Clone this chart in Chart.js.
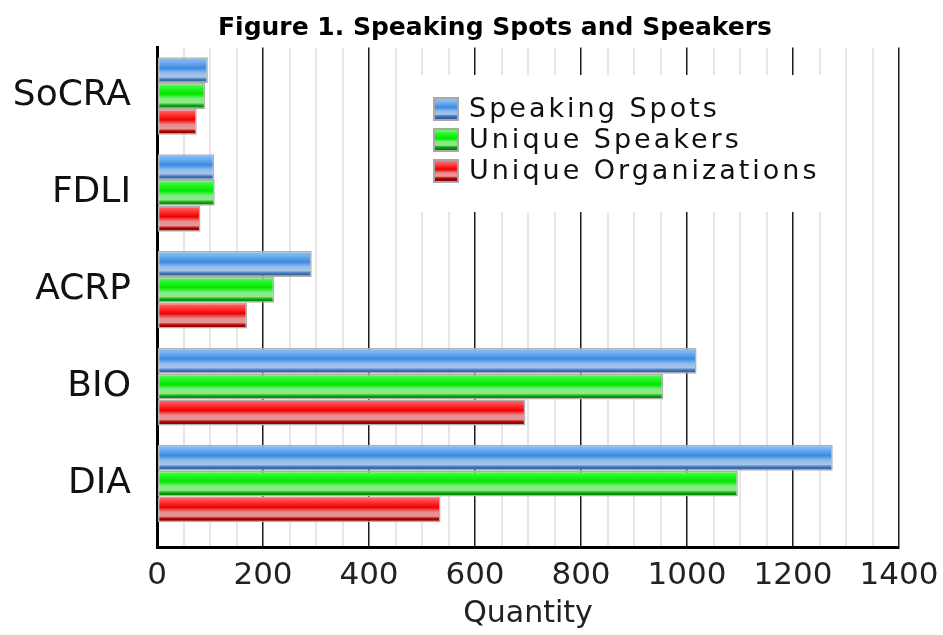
<!DOCTYPE html>
<html lang="en">
<head>
<meta charset="UTF-8">
<title>Figure 1. Speaking Spots and Speakers</title>
<style>
  html, body { margin: 0; padding: 0; background: #fff; }
</style>
</head>
<body>
<canvas id="myChart" width="943" height="635"></canvas>
<script src="https://cdn.jsdelivr.net/npm/chart.js"></script>
<script>
// data
const titleText = "Figure 1. Speaking Spots and Speakers";
const categories = ["SoCRA", "FDLI", "ACRP", "BIO", "DIA"];
const seriesNames = ["Speaking Spots", "Unique Speakers", "Unique Organizations"];
const speakingSpots = [96, 108, 292, 1018, 1275];
const uniqueSpeakers = [91, 109, 221, 955, 1096];
const uniqueOrgs = [75, 82, 170, 695, 535];
const xTicks = [0, 200, 400, 600, 800, 1000, 1200, 1400];

// glossy stripes, top to bottom of each bar
const shades = [
    [[0, "#8ec4f8"], [0.18, "#72b0f2"], [0.42, "#3b89e2"], [0.6, "#93bbe9"], [0.76, "#a6c5ea"], [0.86, "#3f73b6"], [1, "#2b578f"]],
    [[0, "#66ff66"], [0.18, "#2cf52c"], [0.42, "#00e600"], [0.6, "#7fee7f"], [0.76, "#8ee88e"], [0.86, "#0aa30a"], [1, "#007a00"]],
    [[0, "#ff7373"], [0.18, "#ff4040"], [0.42, "#ee0000"], [0.6, "#ea8a8a"], [0.76, "#e59a9a"], [0.86, "#b00000"], [1, "#860000"]]
];

function gradient(ctx, top, bottom, stops) {
    const g = ctx.createLinearGradient(0, top, 0, bottom);
    stops.forEach(s => g.addColorStop(s[0], s[1]));
    return g;
}

// categories stop a little above the x axis, like the original
const bandPlugin = {
    id: "band",
    afterLayout(chart) {
        const s = chart.scales.y;
        s._endPixel = s.bottom - 15;
        s._length = s._endPixel - s._startPixel;
    }
};

// give every bar its own vertical gradient, from the bar's own position
const shadePlugin = {
    id: "shade",
    beforeDatasetsDraw(chart) {
        chart.data.datasets.forEach((ds, i) => {
            const meta = chart.getDatasetMeta(i);
            meta.data.forEach(bar => {
                const p = bar.getProps(["y", "height"], true);
                bar.options = Object.assign({}, bar.options, {
                    backgroundColor: gradient(chart.ctx, p.y - p.height / 2, p.y + p.height / 2, shades[i])
                });
            });
        });
    }
};

// legend sits inside the plot on a white panel, title drawn above
const decorPlugin = {
    id: "decor",
    afterDraw(chart) {
        const c = chart.ctx;
        c.save();
        c.fillStyle = "#fff";
        c.fillRect(412, 75, 423, 137);
        chart.data.datasets.forEach((ds, i) => {
            const cy = 109 + i * 31;
            c.fillStyle = "#a8a8a8";
            c.fillRect(433, cy - 12, 26, 24);
            c.fillStyle = gradient(c, cy - 10, cy + 10, shades[i]);
            c.fillRect(435, cy - 10, 22, 20);
            c.font = '27px "DejaVu Sans"';
            c.letterSpacing = "3px";
            c.fillStyle = "#111";
            c.textAlign = "left";
            c.textBaseline = "middle";
            c.fillText(ds.label, 469, cy + 1);
        });
        c.letterSpacing = "0px";
        c.font = 'bold 25px "DejaVu Sans"';
        c.fillStyle = "#000";
        c.textAlign = "center";
        c.textBaseline = "alphabetic";
        c.fillText(titleText, 495, 35);
        c.restore();
    }
};

const ctx = document.getElementById("myChart");
const myChart = new Chart(ctx, {
    type: "bar",
    data: {
        labels: categories,
        datasets: [
            { label: seriesNames[0], data: speakingSpots, borderColor: "#b0b0b0", backgroundColor: "#3b89e2" },
            { label: seriesNames[1], data: uniqueSpeakers, borderColor: "#b0b0b0", backgroundColor: "#00e600" },
            { label: seriesNames[2], data: uniqueOrgs, borderColor: "#b0b0b0", backgroundColor: "#ee0000" }
        ]
    },
    options: {
        indexAxis: "y",
        responsive: false,
        animation: false,
        devicePixelRatio: 1,
        layout: { padding: { top: 45, right: 44, bottom: 0, left: 11 } },
        datasets: {
            bar: {
                categoryPercentage: 0.8,
                barPercentage: 1.0,
                borderWidth: 1.5,
                borderSkipped: false
            }
        },
        plugins: {
            colors: { enabled: false },
            legend: { display: false },
            title: { display: false },
            tooltip: { enabled: false }
        },
        scales: {
            x: {
                min: 0,
                max: 1400,
                afterFit(scale) {
                    scale.height = 88;
                    scale.paddingRight = 0;
                },
                ticks: {
                    stepSize: 50,
                    autoSkip: false,
                    maxRotation: 0,
                    padding: 10,
                    color: "#222",
                    font: { family: "DejaVu Sans", size: 31 },
                    callback: v => xTicks.includes(v) ? String(v) : ""
                },
                grid: {
                    drawTicks: false,
                    color: c => xTicks.includes(c.tick.value) ? "#1a1a1a" : "#e6e6e6",
                    lineWidth: c => xTicks.includes(c.tick.value) ? 1.5 : 2
                },
                border: { display: true, color: "#000", width: 3 },
                title: {
                    display: true,
                    text: "Quantity",
                    color: "#222",
                    font: { family: "DejaVu Sans", size: 30 },
                    padding: { top: 0, bottom: 3 }
                }
            },
            y: {
                afterFit(scale) { scale.width = 146; },
                ticks: {
                    padding: 26,
                    color: "#111",
                    font: { family: "DejaVu Sans", size: 36 }
                },
                grid: { display: false, drawTicks: false },
                border: { display: true, color: "#000", width: 3 }
            }
        }
    },
    plugins: [bandPlugin, shadePlugin, decorPlugin]
});
</script>
</body>
</html>
